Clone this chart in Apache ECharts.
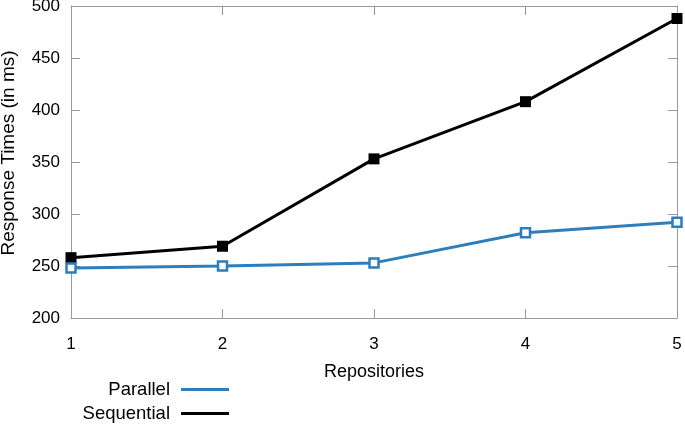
<!DOCTYPE html>
<html><head><meta charset="utf-8">
<script src="https://cdn.jsdelivr.net/npm/echarts@6/dist/echarts.min.js"></script>
<style>html,body{margin:0;padding:0;background:#fff}#c{width:685px;height:424px}</style>
</head><body><div id="c"></div>
<script>
var repositories = [1, 2, 3, 4, 5];
var parallel = [248, 250, 253, 282, 292];
var sequential = [258, 269, 353, 408, 488];
var yTicks = {min: 200, max: 500, step: 50};

var font = 'Liberation Sans, Arial, sans-serif';
var axisGray = '#999';
var blue = '#2e7ebc';
var chart = echarts.init(document.getElementById('c'), null, {renderer: 'canvas'});
function pairs(xs, ys) { return xs.map(function (x, i) { return [x, ys[i]]; }); }
var baseX = {
  type: 'value', min: repositories[0], max: repositories[repositories.length - 1], interval: 1,
  axisLine: {show: true, onZero: false, lineStyle: {color: axisGray, width: 1}},
  axisTick: {show: true, inside: true, length: 9, lineStyle: {color: axisGray}},
  splitLine: {show: false}
};
var baseY = {
  type: 'value', min: yTicks.min, max: yTicks.max, interval: yTicks.step,
  axisLine: {show: true, onZero: false, lineStyle: {color: axisGray, width: 1}},
  axisTick: {show: true, inside: true, length: 9, lineStyle: {color: axisGray}},
  splitLine: {show: false}
};
chart.setOption({
  animation: false,
  grid: {left: 71, right: 8, top: 6, bottom: 106, containLabel: false, outerBoundsMode: 'none'},
  legend: {
    orient: 'vertical', right: 456, top: 380, align: 'right', padding: 0,
    itemWidth: 48, itemHeight: 3, itemGap: 5, icon: 'rect',
    textStyle: {fontFamily: font, fontSize: 18.5, lineHeight: 18, color: '#000', padding: [0, 6, 0, 0]},
    data: [
      {name: 'Parallel', itemStyle: {color: blue, borderWidth: 0}},
      {name: 'Sequential', itemStyle: {color: '#000', borderWidth: 0}}
    ]
  },
  xAxis: [
    Object.assign({}, baseX, {
      position: 'bottom', name: 'Repositories', nameLocation: 'middle', nameGap: 45,
      nameTextStyle: {fontFamily: font, fontSize: 18, color: '#000'},
      axisLabel: {fontFamily: font, fontSize: 17, color: '#000', margin: 18}
    }),
    Object.assign({}, baseX, {position: 'top', axisLabel: {show: false}})
  ],
  yAxis: [
    Object.assign({}, baseY, {
      position: 'left', name: 'Response Times (in ms)', nameLocation: 'middle', nameGap: 53,
      nameTextStyle: {fontFamily: font, fontSize: 19, color: '#000', padding: [0, 0, 0, 18]},
      axisLabel: {fontFamily: font, fontSize: 17, color: '#000', margin: 11}
    }),
    Object.assign({}, baseY, {position: 'right', axisLabel: {show: false}})
  ],
  series: [
    {
      name: 'Parallel', type: 'line', data: pairs(repositories, parallel),
      color: blue,
      lineStyle: {width: 3, color: blue},
      symbol: 'rect', symbolSize: 9,
      itemStyle: {color: '#fff', borderColor: blue, borderWidth: 2.5},
      z: 3
    },
    {
      name: 'Sequential', type: 'line', data: pairs(repositories, sequential),
      color: '#000',
      lineStyle: {width: 3, color: '#000'},
      symbol: 'rect', symbolSize: 11,
      itemStyle: {color: '#000'},
      z: 2
    }
  ]
});
</script></body></html>
